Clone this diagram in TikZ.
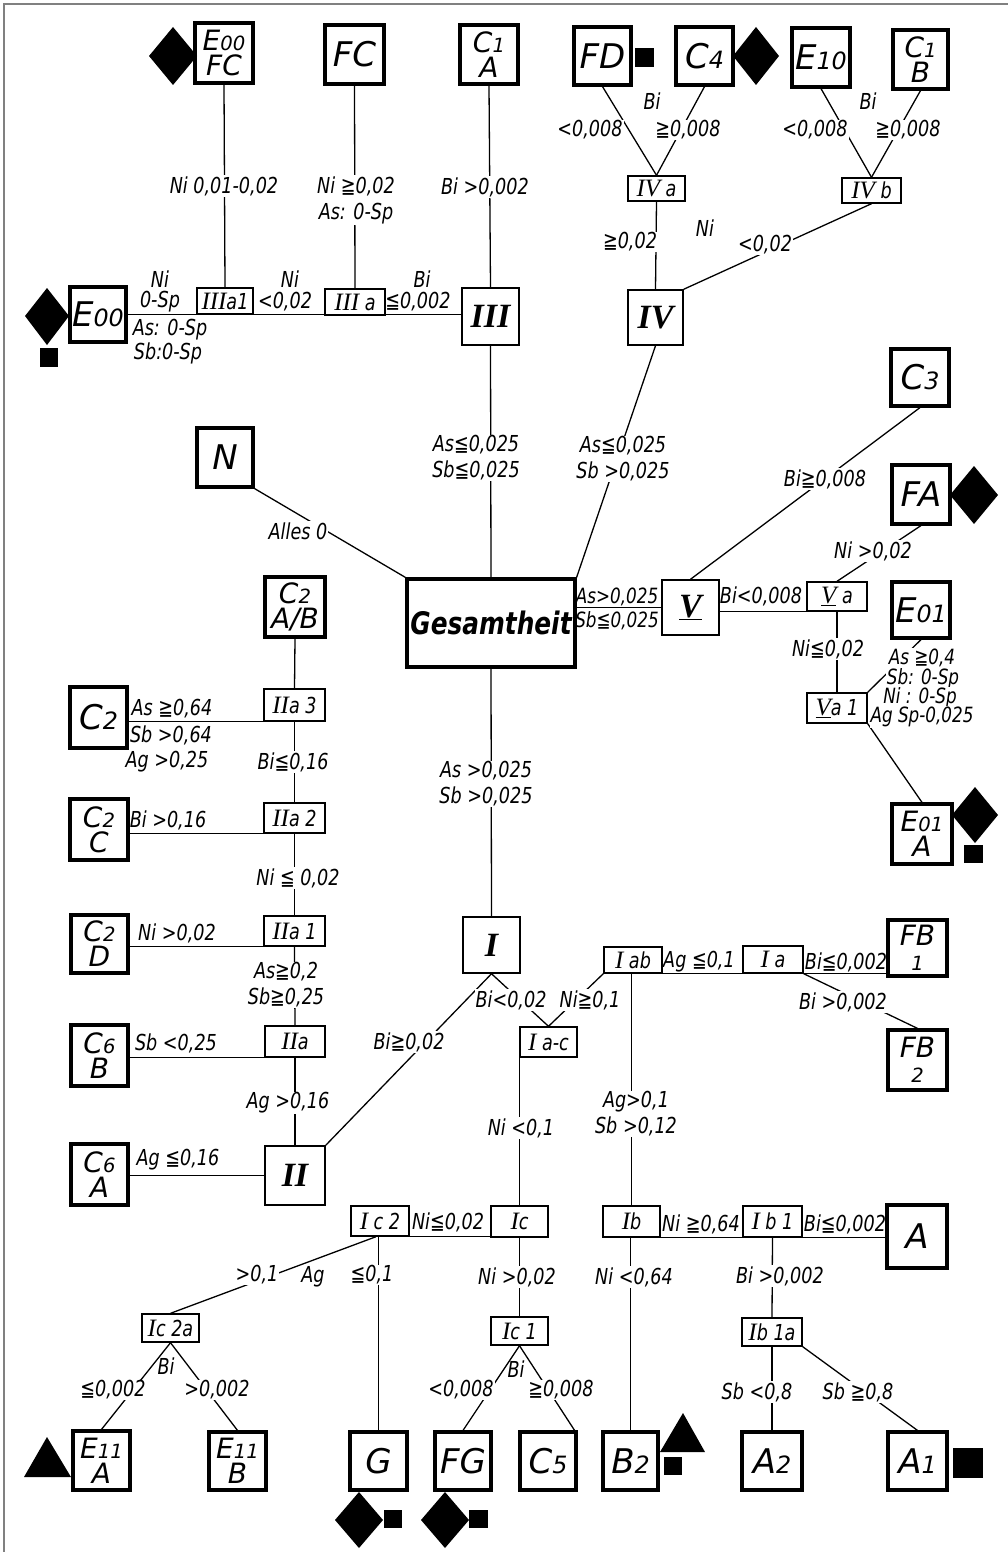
\documentclass[tikz,border=0pt]{standalone}
\usepackage{fontspec}
\usepackage{graphicx}
\setmainfont{DejaVu Sans}[FakeStretch=0.8]
\newfontfamily\leaffam{DejaVu Sans}
\newfontfamily\romfont{Liberation Serif}
\newcommand\sm[1]{\scalebox{0.7}{#1}}
\newcommand\rn[1]{{\romfont\itshape\fontsize{25}{25}\selectfont #1}}
\tikzset{
  sz/.style 2 args={minimum width=#1, minimum height=#2},
  leaf/.style={draw, line width=3.2pt, fill=white, inner sep=0pt, align=center,
    font=\leaffam\itshape\fontsize{34}{34}\selectfont},
  leaftwo/.style={leaf, font=\leaffam\itshape\fontsize{28}{25}\selectfont},
  rbox/.style={draw, line width=1.5pt, fill=white, inner sep=0pt,
    font=\romfont\bfseries\itshape\fontsize{34}{34}\selectfont},
  sbox/.style={draw, line width=1.4pt, fill=white, inner sep=0pt,
    font=\itshape\fontsize{22}{22}\selectfont},
  lab/.style={inner sep=1pt, align=center, font=\itshape\fontsize{22}{26}\selectfont},
  labw/.style={lab, fill=white},
  labn/.style={lab, font=\itshape\fontsize{21}{21}\selectfont},
  labs/.style={labw, font=\itshape\fontsize{21}{21}\selectfont},
  conn/.style={line width=1.3pt},
  mk/.style={fill=black}
}
\begin{document}
\begin{tikzpicture}[x=1pt,y=-1pt]
\useasboundingbox (0,0) rectangle (1008,1552);
\fill[white] (0,0) rectangle (1008,1552);
\draw[gray, line width=1.3pt] (4,1552) -- (4,4) -- (1008,4);

% ---------- nodes ----------
\node[leaftwo, sz={58}{60}] (e00fc) at (224,53) {E\sm{00}\\FC};
\node[leaf, sz={59}{59}] (fc) at (354.5,54.5) {FC};
\node[leaftwo, sz={58}{59}] (c1a) at (489,54.5) {C\sm{1}\\A};
\node[leaf, sz={57}{58}] (fd) at (602.5,56) {FD};
\node[leaf, sz={57}{58}] (c4) at (704.5,56) {C\sm{4}};
\node[leaf, sz={58}{59}] (e10) at (821,57.5) {E\sm{10}};
\node[leaftwo, sz={55}{59}] (c1b) at (920.5,59.5) {C\sm{1}\\B};

\node[sbox, sz={57}{25}] (iva) at (656.5,188.5) {\rn{IV} a};
\node[sbox, sz={59}{25}] (ivb) at (871.5,190.5) {\rn{IV} b};
\node[rbox, sz={55}{55}] (iv) at (655.5,317.5) {IV};
\node[leaf, sz={56}{55}] (e00) at (98,314.5) {E\sm{00}};
\node[sbox, sz={56}{26}] (iiia1) at (225,301) {\rn{III}a1};
\node[sbox, sz={60}{26}] (iiia) at (355,302) {\rn{III} a};
\node[rbox, sz={57}{57}] (iii) at (490.5,316.5) {III};
\node[leaf, sz={56}{59}] (n) at (225,457.5) {N};
\node[draw, line width=3.2pt, fill=white, inner sep=0pt, sz={168}{88},
  font=\bfseries\itshape\fontsize{31}{31}\selectfont] (ges) at (491,623) {Gesamtheit};
\node[leaf, sz={58}{57}] (c3) at (920,377.5) {C\sm{3}};
\node[leaf, sz={58}{59}] (fa) at (921,494.5) {FA};
\node[rbox, sz={57}{55}] (v) at (690.5,607.5) {\underline{V}};
\node[sbox, sz={60}{29}] (va) at (837,596.5) {\rn{\underline{V}} a};
\node[leaf, sz={58}{56}] (e01) at (921,610) {E\sm{01}};
\node[sbox, sz={60}{30}] (va1) at (837,708) {\rn{\underline{V}}a 1};
\node[leaftwo, sz={60}{60}] (e01a) at (922,834) {E\sm{01}\\A};

\node[leaftwo, sz={60}{60}] (c2ab) at (295,607) {C\sm{2}\\A/B};
\node[sbox, sz={61}{32}] (iia3) at (294.5,705) {\rn{II}a 3};
\node[leaf, sz={57}{61}] (c2) at (98.5,717.5) {C\sm{2}};
\node[sbox, sz={61}{30}] (iia2) at (294.5,818) {\rn{II}a 2};
\node[leaftwo, sz={58}{61}] (c2c) at (99,829.5) {C\sm{2}\\C};
\node[sbox, sz={61}{30}] (iia1) at (294.5,931) {\rn{II}a 1};
\node[leaftwo, sz={57}{58}] (c2d) at (99.5,944) {C\sm{2}\\D};
\node[sbox, sz={60}{31}] (iia) at (295,1041.5) {\rn{II}a};
\node[leaftwo, sz={57}{61}] (c6b) at (99.5,1055.5) {C\sm{6}\\B};
\node[rbox, sz={60}{59}] (ii) at (295,1175.5) {II};
\node[leaftwo, sz={57}{61}] (c6a) at (99.5,1174.5) {C\sm{6}\\A};

\node[rbox, sz={57}{56}] (i) at (491.5,945) {I};
\node[sbox, sz={57}{30}] (iac) at (548.5,1042) {\rn{I} a-c};
\node[sbox, sz={58}{26}] (iab) at (633,960) {\rn{I} ab};
\node[sbox, sz={60}{27}] (ia) at (773,959.5) {\rn{I} a};
\node[leaftwo, sz={59}{56}] (fb1) at (917.5,948) {FB\\\sm{1}};
\node[leaftwo, sz={59}{60}] (fb2) at (917.5,1060) {FB\\\sm{2}};
\node[sbox, sz={58}{30}] (ic2) at (380,1221) {\rn{I} c 2};
\node[sbox, sz={57}{31}] (ic) at (519.5,1221.5) {\rn{I}c};
\node[sbox, sz={57}{31}] (ib) at (631.5,1221.5) {\rn{I}b};
\node[sbox, sz={59}{31}] (ib1) at (772.5,1221.5) {\rn{I} b 1};
\node[leaf, sz={60}{63}] (a) at (917,1236.5) {A};
\node[sbox, sz={57}{28}] (ic2a) at (170.5,1328) {\rn{I}c 2a};
\node[sbox, sz={57}{28}] (ic1) at (519.5,1331) {\rn{I}c 1};
\node[sbox, sz={60}{28}] (ib1a) at (772,1332) {\rn{I}b 1a};
\node[leaftwo, sz={57}{59}] (e11a) at (101.5,1460.5) {E\sm{11}\\A};
\node[leaftwo, sz={57}{58}] (e11b) at (237.5,1461) {E\sm{11}\\B};
\node[leaf, sz={57}{58}] (g) at (378.5,1461) {G};
\node[leaf, sz={56}{58}] (fg) at (463,1461) {FG};
\node[leaf, sz={56}{58}] (c5) at (548,1461) {C\sm{5}};
\node[leaf, sz={55}{58}] (b2) at (630.5,1461) {B\sm{2}};
\node[leaf, sz={60}{58}] (a2) at (772,1461) {A\sm{2}};
\node[leaf, sz={59}{58}] (a1) at (917.5,1461) {A\sm{1}};

% ---------- markers ----------
\fill[mk] (173,27) -- (197,56) -- (173,85) -- (149,56) -- cycle;
\fill[mk] (47,288) -- (69,316) -- (47,345) -- (25,316) -- cycle;
\fill[mk] (40,348) rectangle (58,367);
\fill[mk] (635,48) rectangle (654,67);
\fill[mk] (756,27) -- (779,56) -- (756,85) -- (733,56) -- cycle;
\fill[mk] (974,466) -- (998,495) -- (974,524) -- (950,495) -- cycle;
\fill[mk] (975,787) -- (998,815) -- (975,843) -- (952,815) -- cycle;
\fill[mk] (964,845) rectangle (983,863);
\fill[mk] (953,1448) rectangle (983,1478);
\fill[mk] (683,1413) -- (705,1452) -- (660,1452) -- cycle;
\fill[mk] (664,1457) rectangle (682,1475);
\fill[mk] (359,1492) -- (383,1520) -- (359,1548) -- (335,1520) -- cycle;
\fill[mk] (384,1510) rectangle (402,1528);
\fill[mk] (445,1492) -- (469,1520) -- (445,1548) -- (421,1520) -- cycle;
\fill[mk] (469,1510) rectangle (488,1528);
\fill[mk] (47,1437) -- (71,1477) -- (24,1477) -- cycle;

% ---------- connectors ----------
\draw[conn] (e00fc.south) -- (iiia1.north);
\draw[conn] (fc.south) -- (iiia.north);
\draw[conn] (c1a.south) -- (iii.north);
\draw[conn] (e00.east) -- (e00.east -| iii.west);
\draw[conn] (fd.south) -- (iva.north);
\draw[conn] (c4.south) -- (iva.north);
\draw[conn] (e10.south) -- (ivb.north);
\draw[conn] (c1b.south) -- (ivb.north);
\draw[conn] (iva.south) -- (iv.north);
\draw[conn] (ivb.south) -- (iv.north east);
\draw[conn] (iii.south) -- (ges.north);
\draw[conn] (iv.south) -- (ges.north east);
\draw[conn] (n.south east) -- (ges.north west);
\draw[conn] (v.west -| ges.east) -- (v.west);
\draw[conn] (va.south west -| v.east) -- (va.south west);
\draw[conn] (v.north) -- (c3.south);
\draw[conn] (va.north) -- (fa.south);
\draw[conn] (va.south) -- (va1.north);
\draw[conn] (va1.north east) -- (e01.south);
\draw[conn] (va1.south east) -- (e01a.north);

\draw[conn] (c2ab.south) -- (iia3.north);
\draw[conn] (iia3.south west -| c2.east) -- (iia3.south west);
\draw[conn] (iia3.south) -- (iia2.north);
\draw[conn] (iia2.south west -| c2c.east) -- (iia2.south west);
\draw[conn] (iia2.south) -- (iia1.north);
\draw[conn] (iia1.south west -| c2d.east) -- (iia1.south west);
\draw[conn] (iia1.south) -- (iia.north);
\draw[conn] (iia.south west -| c6b.east) -- (iia.south west);
\draw[conn] (iia.south) -- (ii.north);
\draw[conn] (ii.west -| c6a.east) -- (ii.west);

\draw[conn] (ges.south) -- (i.north);
\draw[conn] (i.south) -- (ii.north east);
\draw[conn] (i.south) -- (iac.north);
\draw[conn] (iac.north) -- (iab.south west);
\draw[conn] (iab.south east) -- (iab.south east -| fb1.west);
\draw[conn] (ia.south east) -- (fb2.north);
\draw[conn] (ib.north |- iab.south) -- (ib.north);
\draw[conn] (ic.north |- iac.south) -- (ic.north);
\draw[conn] (b2.north |- ib.south) -- (b2.north);
\draw[conn] (ib.south east) -- (ib.south east -| a.west);
\draw[conn] (ic2.south east) -- (ic2.south east -| ic.west);
\draw[conn] (ic.south) -- (ic1.north);
\draw[conn] (ib1.south) -- (ib1a.north);
\draw[conn] (ib1a.south) -- (a2.north);
\draw[conn] (ib1a.south east) -- (a1.north);
\draw[conn] (ic1.south) -- (fg.north);
\draw[conn] (ic1.south) -- ([xshift=-3pt]c5.north east);
\draw[conn] (g.north |- ic2.south) -- (g.north);
\draw[conn] ([xshift=-4pt]ic2.south) -- (ic2a.north);
\draw[conn] (ic2a.south) -- (e11a.north);
\draw[conn] (ic2a.south) -- (e11b.north);

% ---------- labels ----------
\node[labw] (l1) at (224,186) {Ni 0,01-0,02};
\node[labw] (l2) at (356,200) {Ni ≧0,02\\As: 0-Sp};
\node[labw] (l3) at (485,187) {Bi >0,002};
\node[lab] (l4) at (652,101) {Bi};
\node[labw] (l5) at (590,130) {<0,008};
\node[labw] (l6) at (688,130) {≧0,008};
\node[lab] (l7) at (868,101) {Bi};
\node[labw] (l8) at (815,130) {<0,008};
\node[labw] (l9) at (908,130) {≧0,008};
\node[labw] (l10) at (630,242) {≧0,02};
\node[lab] (l11) at (705,228) {Ni};
\node[labw] (l12) at (765,245) {<0,02};
\node[lab] (l13) at (160,279) {Ni};
\node[lab] (l14) at (160,302) {0-Sp};
\node[lab] (l15) at (170,330) {As: 0-Sp};
\node[lab] (l16) at (168,353) {Sb:0-Sp};
\node[lab] (l17) at (290,279) {Ni};
\node[lab] (l18) at (285,302) {<0,02};
\node[lab] (l19) at (422,279) {Bi};
\node[lab] (l20) at (418,302) {≦0,002};
\node[labw] (l21) at (476,458) {As≦0,025\\Sb≦0,025};
\node[labw] (l22) at (623,459) {As≦0,025\\Sb >0,025};
\node[labw] (l23) at (298,531) {Alles 0};
\node[labn] (l24) at (617,597) {As>0,025};
\node[labn] (l25) at (617,621) {Sb≦0,025};
\node[lab] (l26) at (761,596) {Bi<0,008};
\node[labw] (l27) at (825,479) {Bi≧0,008};
\node[labw] (l28) at (873,551) {Ni >0,02};
\node[labw] (l29) at (828,649) {Ni≦0,02};
\node[labs] (l30) at (922,658) {As ≧0,4};
\node[labs] (l31) at (923,679) {Sb: 0-Sp};
\node[labs] (l32) at (920,698) {Ni : 0-Sp};
\node[labs] (l33) at (922,717) {Ag Sp-0,025};
\node[labw] (l34) at (486,784) {As >0,025\\Sb >0,025};
\node[lab] (l35) at (172,709) {As ≧0,64};
\node[lab] (l36) at (171,735) {Sb >0,64};
\node[lab] (l37) at (167,762) {Ag >0,25};
\node[labw] (l38) at (293,762) {Bi≦0,16};
\node[lab] (l39) at (168,820) {Bi >0,16};
\node[labw] (l40) at (298,878) {Ni ≦ 0,02};
\node[lab] (l41) at (177,933) {Ni >0,02};
\node[labw] (l42) at (286,985) {As≧0,2\\Sb≧0,25};
\node[lab] (l43) at (176,1043) {Sb <0,25};
\node[labw] (l44) at (288,1103) {Ag >0,16};
\node[lab] (l45) at (178,1160) {Ag ≦0,16};
\node[labw] (l46) at (409,1042) {Bi≧0,02};
\node[labw] (l47) at (511,1000) {Bi<0,02};
\node[labw] (l48) at (590,1000) {Ni≧0,1};
\node[lab] (l49) at (699,962) {Ag ≦0,1};
\node[lab] (l50) at (846,962) {Bi≦0,002};
\node[labw] (l51) at (843,1002) {Bi >0,002};
\node[labw] (l52) at (636,1114) {Ag>0,1\\Sb >0,12};
\node[labw] (l53) at (521,1128) {Ni <0,1};
\node[lab] (l54) at (448,1222) {Ni≦0,02};
\node[lab] (l55) at (701,1224) {Ni ≧0,64};
\node[lab] (l56) at (845,1224) {Bi≦0,002};
\node[labw] (l57) at (257,1275) {>0,1};
\node[lab] (l58) at (313,1277) {Ag};
\node[labw] (l59) at (372,1275) {≦0,1};
\node[labw] (l60) at (517,1277) {Ni >0,02};
\node[labw] (l61) at (634,1277) {Ni <0,64};
\node[labw] (l62) at (780,1276) {Bi >0,002};
\node[lab] (l63) at (166,1366) {Bi};
\node[labw] (l64) at (113,1390) {≦0,002};
\node[labw] (l65) at (217,1390) {>0,002};
\node[lab] (l66) at (516,1369) {Bi};
\node[labw] (l67) at (461,1390) {<0,008};
\node[labw] (l68) at (561,1390) {≧0,008};
\node[labw] (l69) at (757,1392) {Sb <0,8};
\node[labw] (l70) at (858,1392) {Sb ≧0,8};
\end{tikzpicture}
\end{document}
